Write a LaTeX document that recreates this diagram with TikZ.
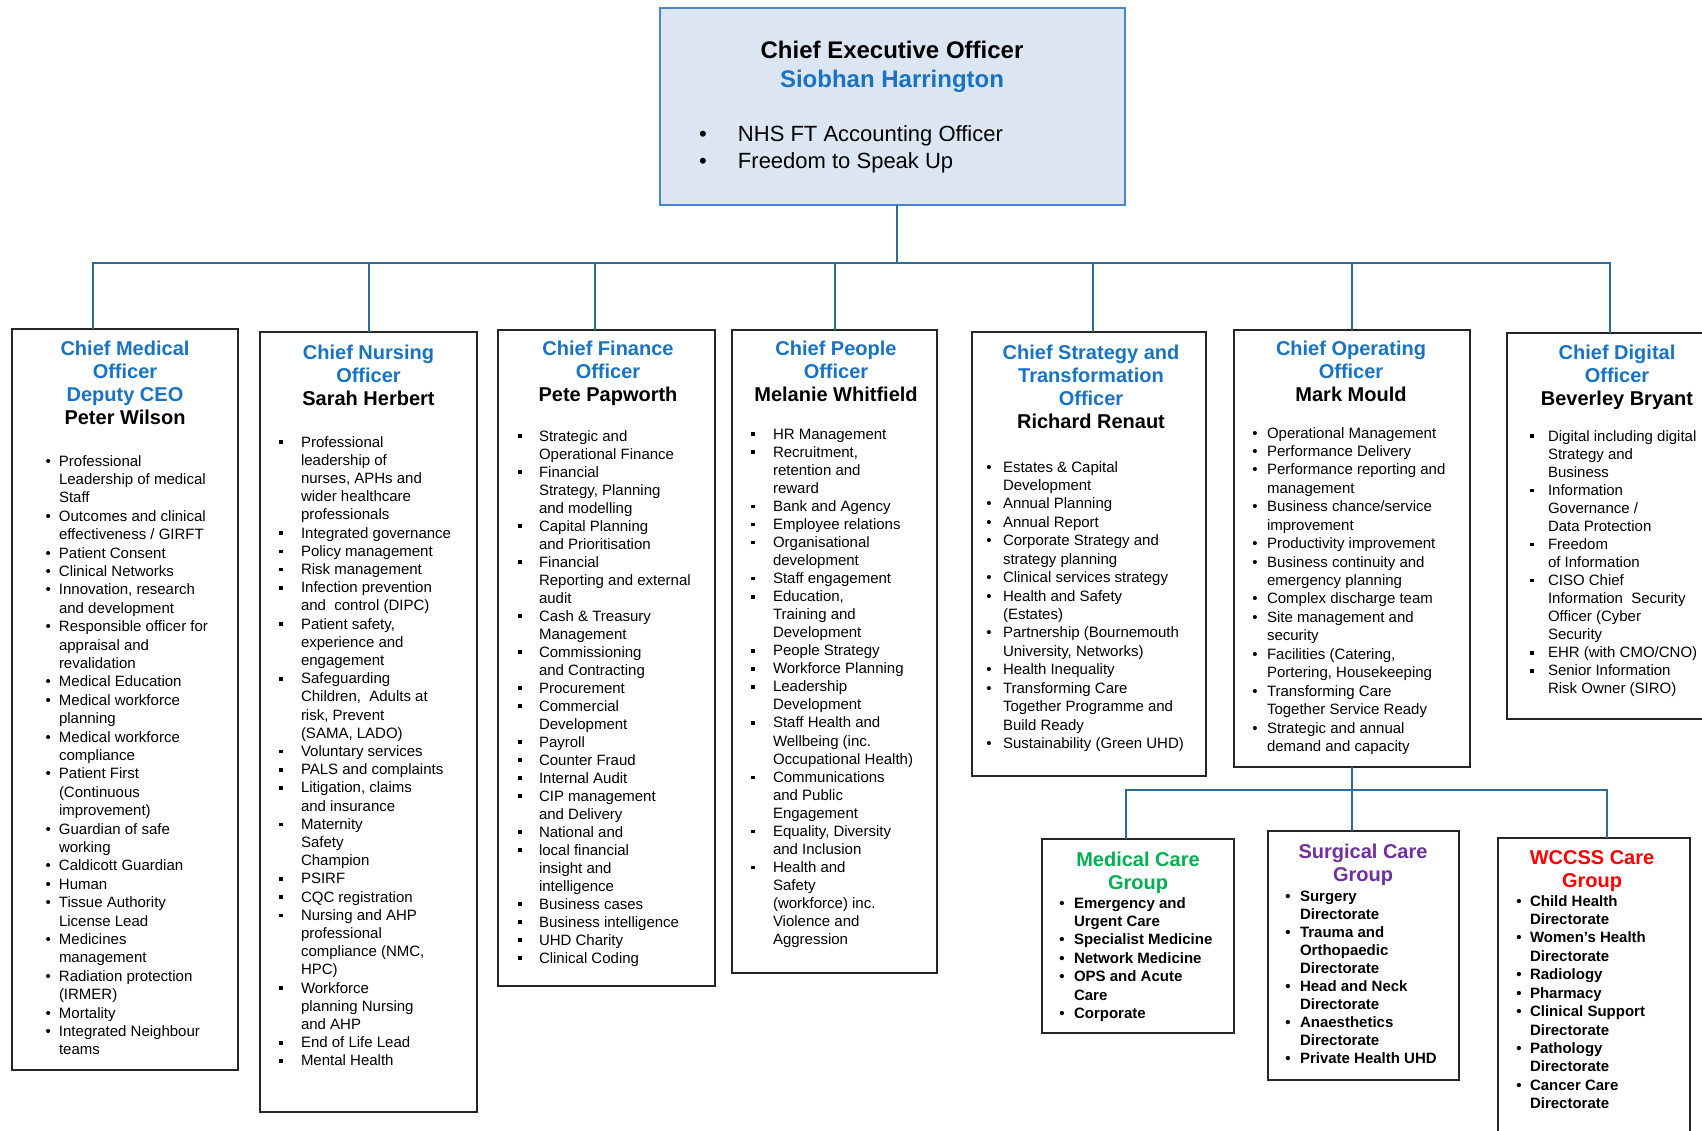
\documentclass[tikz,border=0pt]{standalone}
\usepackage{fontspec}
\setmainfont{Liberation Sans}
\usepackage{array}
\usetikzlibrary{fit}

\definecolor{ttl}{HTML}{1A73C2}
\definecolor{linkcol}{HTML}{2E6B95}
\definecolor{ceofill}{HTML}{DCE6F2}
\definecolor{ceoline}{HTML}{4A86C8}
\definecolor{medgreen}{HTML}{00B050}
\definecolor{surgpurple}{HTML}{7030A0}
\definecolor{wcred}{HTML}{FF0000}

% blue role title line
\newcommand\tl[1]{\textcolor{ttl}{#1}}
% bullet marks
\newcommand\rd{\textbullet}
\newcommand\sq{\rule[0.2em]{0.24em}{0.24em}}
% bulleted list: #1 width of the bullet column, #2 rows
\newcommand\blist[2]{\begin{tabular}[t]{@{}p{#1}@{}l@{}}#2\end{tabular}}
% centred title block
\newcommand\tblock[1]{\begin{tabular}[t]{@{}c@{}}#1\end{tabular}}

\tikzset{
  link/.style={draw=linkcol, line width=1pt},
  box/.style={draw=black!85, line width=1pt, fill=white, inner sep=0pt, outer sep=0pt},
  ceobox/.style={draw=ceoline, line width=1pt, fill=ceofill, inner sep=0pt, outer sep=0pt},
  txt/.style={inner sep=0pt, outer sep=0pt},
  ttlfont/.style={txt, anchor=base, font=\bfseries\fontsize{10pt}{11.5pt}\selectfont},
  lst/.style={txt, anchor=base west, font=\fontsize{7.5pt}{#1}\selectfont},
  blst/.style={txt, anchor=base west, font=\bfseries\fontsize{7.5pt}{#1}\selectfont},
}

\begin{document}
\begin{tikzpicture}[x=0.5pt, y=-0.5pt]
\useasboundingbox (0,0) rectangle (1702,1130);
\clip (0,0) rectangle (1702,1130);

% ---------- boxes ----------
\node[ceobox, fit={(660,8) (1125,205)}] (ceo) {};
\node[box, fit={(12,329) (238,1070)}] (cmo) {};
\node[box, fit={(260,332) (477,1112)}] (cno) {};
\node[box, fit={(498,330) (715,986)}] (cfo) {};
\node[box, fit={(732,330) (937,973)}] (cpo) {};
\node[box, fit={(972,332) (1206,776)}] (csto) {};
\node[box, fit={(1234,330) (1470,767)}] (coo) {};
\node[box, fit={(1507,333) (1712,719)}] (cdo) {};
\node[box, fit={(1042,839) (1234,1033)}] (med) {};
\node[box, fit={(1268,831) (1459,1080)}] (surg) {};
\node[box, fit={(1498,838) (1690,1140)}] (wcc) {};

% ---------- connectors ----------
\coordinate (bus) at (897,263);
\coordinate (bus2) at (1352,790);
\draw[link] ([xshift=2.25pt]ceo.south) -- (bus);
\draw[link] ([xshift=-16pt]cmo.north) |- (bus);
\draw[link] (cno.north) |- (bus);
\draw[link] ([xshift=-5.75pt]cfo.north) |- (bus);
\draw[link] (cpo.north) |- (bus);
\draw[link] ([xshift=2pt]csto.north) |- (bus);
\draw[link] (coo.north) |- (bus);
\draw[link] (cdo.north) |- (bus);
\draw[link] (coo.south) -- (coo.south |- surg.north);
\draw[link] ([xshift=-6pt]med.north) |- (bus2);
\draw[link] ([xshift=6.5pt]wcc.north) |- (bus2);

% ---------- chief executive ----------
\node[txt, anchor=base, font=\bfseries\fontsize{12pt}{14.5pt}\selectfont] (ceo-t) at (892,58)
  {\tblock{Chief Executive Officer\\\tl{Siobhan Harrington}}};
\node[txt, anchor=base west, font=\fontsize{11pt}{13.5pt}\selectfont] (ceo-l) at (699,141)
  {\blist{19.5pt}{\rd & NHS FT Accounting Officer\\ \rd & Freedom to Speak Up}};

% ---------- chief medical officer ----------
\node[ttlfont] (cmo-t) at (125,355.5)
  {\tblock{\tl{Chief Medical}\\\tl{Officer}\\\tl{Deputy CEO}\\Peter Wilson}};
\node[lst=9.2pt] (cmo-l) at (45.5,466) {\blist{6.75pt}{%
\rd & Professional\\
 & Leadership of medical\\
 & Staff\\
\rd & Outcomes and clinical\\
 & effectiveness / GIRFT\\
\rd & Patient Consent\\
\rd & Clinical Networks\\
\rd & Innovation, research\\
 & and development\\
\rd & Responsible officer for\\
 & appraisal and\\
 & revalidation\\
\rd & Medical Education\\
\rd & Medical workforce\\
 & planning\\
\rd & Medical workforce\\
 & compliance\\
\rd & Patient First\\
 & (Continuous\\
 & improvement)\\
\rd & Guardian of safe\\
 & working\\
\rd & Caldicott Guardian\\
\rd & Human\\
\rd & Tissue Authority\\
 & License Lead\\
\rd & Medicines\\
 & management\\
\rd & Radiation protection\\
 & (IRMER)\\
\rd & Mortality\\
\rd & Integrated Neighbour\\
 & teams}};

% ---------- chief nursing officer ----------
\node[ttlfont] (cno-t) at (368.5,359.5)
  {\tblock{\tl{Chief Nursing}\\\tl{Officer}\\Sarah Herbert}};
\node[lst=9.1pt] (cno-l) at (279,447) {\blist{11pt}{%
\sq & Professional\\
 & leadership of\\
 & nurses, APHs and\\
 & wider healthcare\\
 & professionals\\
\sq & Integrated governance\\
\sq & Policy management\\
\sq & Risk management\\
\sq & Infection prevention\\
 & and\ \ control (DIPC)\\
\sq & Patient safety,\\
 & experience and\\
 & engagement\\
\sq & Safeguarding\\
 & Children,\ \ Adults at\\
 & risk, Prevent\\
 & (SAMA, LADO)\\
\sq & Voluntary services\\
\sq & PALS and complaints\\
\sq & Litigation, claims\\
 & and insurance\\
\sq & Maternity\\
 & Safety\\
 & Champion\\
\sq & PSIRF\\
\sq & CQC registration\\
\sq & Nursing and AHP\\
 & professional\\
 & compliance (NMC,\\
 & HPC)\\
\sq & Workforce\\
 & planning Nursing\\
 & and AHP\\
\sq & End of Life Lead\\
\sq & Mental Health}};

% ---------- chief finance officer ----------
\node[ttlfont] (cfo-t) at (608,355.5)
  {\tblock{\tl{Chief Finance}\\\tl{Officer}\\Pete Papworth}};
\node[lst=9.0pt] (cfo-l) at (518,441) {\blist{10.5pt}{%
\sq & Strategic and\\
 & Operational Finance\\
\sq & Financial\\
 & Strategy, Planning\\
 & and modelling\\
\sq & Capital Planning\\
 & and Prioritisation\\
\sq & Financial\\
 & Reporting and external\\
 & audit\\
\sq & Cash \& Treasury\\
 & Management\\
\sq & Commissioning\\
 & and Contracting\\
\sq & Procurement\\
\sq & Commercial\\
 & Development\\
\sq & Payroll\\
\sq & Counter Fraud\\
\sq & Internal Audit\\
\sq & CIP management\\
 & and Delivery\\
\sq & National and\\
\sq & local financial\\
 & insight and\\
 & intelligence\\
\sq & Business cases\\
\sq & Business intelligence\\
\sq & UHD Charity\\
\sq & Clinical Coding}};

% ---------- chief people officer ----------
\node[ttlfont] (cpo-t) at (836,355.5)
  {\tblock{\tl{Chief People}\\\tl{Officer}\\Melanie Whitfield}};
\node[lst=9.03pt] (cpo-l) at (751,439) {\blist{11pt}{%
\sq & HR Management\\
\sq & Recruitment,\\
 & retention and\\
 & reward\\
\sq & Bank and Agency\\
\sq & Employee relations\\
\sq & Organisational\\
 & development\\
\sq & Staff engagement\\
\sq & Education,\\
 & Training and\\
 & Development\\
\sq & People Strategy\\
\sq & Workforce Planning\\
\sq & Leadership\\
 & Development\\
\sq & Staff Health and\\
 & Wellbeing (inc.\\
 & Occupational Health)\\
\sq & Communications\\
 & and Public\\
 & Engagement\\
\sq & Equality, Diversity\\
 & and Inclusion\\
\sq & Health and\\
 & Safety\\
 & (workforce) inc.\\
 & Violence and\\
 & Aggression}};

% ---------- chief strategy and transformation officer ----------
\node[ttlfont] (csto-t) at (1091,359.5)
  {\tblock{\tl{Chief Strategy and}\\\tl{Transformation}\\\tl{Officer}\\Richard Renaut}};
\node[lst=9.22pt] (csto-l) at (986.4,472) {\blist{8.3pt}{%
\rd & Estates \& Capital\\
 & Development\\
\rd & Annual Planning\\
\rd & Annual Report\\
\rd & Corporate Strategy and\\
 & strategy planning\\
\rd & Clinical services strategy\\
\rd & Health and Safety\\
 & (Estates)\\
\rd & Partnership (Bournemouth\\
 & University, Networks)\\
\rd & Health Inequality\\
\rd & Transforming Care\\
 & Together Programme and\\
 & Build Ready\\
\rd & Sustainability (Green UHD)}};

% ---------- chief operating officer ----------
\node[ttlfont] (coo-t) at (1351,355.5)
  {\tblock{\tl{Chief Operating}\\\tl{Officer}\\Mark Mould}};
\node[lst=9.22pt] (coo-l) at (1252.4,438) {\blist{7.3pt}{%
\rd & Operational Management\\
\rd & Performance Delivery\\
\rd & Performance reporting and\\
 & management\\
\rd & Business chance/service\\
 & improvement\\
\rd & Productivity improvement\\
\rd & Business continuity and\\
 & emergency planning\\
\rd & Complex discharge team\\
\rd & Site management and\\
 & security\\
\rd & Facilities (Catering,\\
 & Portering, Housekeeping\\
\rd & Transforming Care\\
 & Together Service Ready\\
\rd & Strategic and annual\\
 & demand and capacity}};

% ---------- chief digital officer ----------
\node[ttlfont] (cdo-t) at (1617,359.5)
  {\tblock{\tl{Chief Digital}\\\tl{Officer}\\Beverley Bryant}};
\node[lst=9.03pt] (cdo-l) at (1530,441) {\blist{9pt}{%
\sq & Digital including digital\\
 & Strategy and\\
 & Business\\
\sq & Information\\
 & Governance /\\
 & Data Protection\\
\sq & Freedom\\
 & of Information\\
\sq & CISO Chief\\
 & Information\ \ Security\\
 & Officer (Cyber\\
 & Security\\
\sq & EHR (with CMO/CNO)\\
\sq & Senior Information\\
 & Risk Owner (SIRO)}};

% ---------- care groups ----------
\node[ttlfont] (med-t) at (1138,866)
  {\tblock{\textcolor{medgreen}{Medical Care}\\\textcolor{medgreen}{Group}}};
\node[blst=9.22pt] (med-l) at (1059.4,908) {\blist{7.3pt}{%
\rd & Emergency and\\
 & Urgent Care\\
\rd & Specialist Medicine\\
\rd & Network Medicine\\
\rd & OPS and Acute\\
 & Care\\
\rd & Corporate}};

\node[ttlfont] (surg-t) at (1363,858)
  {\tblock{\textcolor{surgpurple}{Surgical Care}\\\textcolor{surgpurple}{Group}}};
\node[blst=9.05pt] (surg-l) at (1285.4,901) {\blist{7.3pt}{%
\rd & Surgery\\
 & Directorate\\
\rd & Trauma and\\
 & Orthopaedic\\
 & Directorate\\
\rd & Head and Neck\\
 & Directorate\\
\rd & Anaesthetics\\
 & Directorate\\
\rd & Private Health UHD}};

\node[ttlfont] (wcc-t) at (1592,864)
  {\tblock{\textcolor{wcred}{WCCSS Care}\\\textcolor{wcred}{Group}}};
\node[blst=9.22pt] (wcc-l) at (1516.4,906) {\blist{6.8pt}{%
\rd & Child Health\\
 & Directorate\\
\rd & Women's Health\\
 & Directorate\\
\rd & Radiology\\
\rd & Pharmacy\\
\rd & Clinical Support\\
 & Directorate\\
\rd & Pathology\\
 & Directorate\\
\rd & Cancer Care\\
 & Directorate}};

\end{tikzpicture}
\end{document}
